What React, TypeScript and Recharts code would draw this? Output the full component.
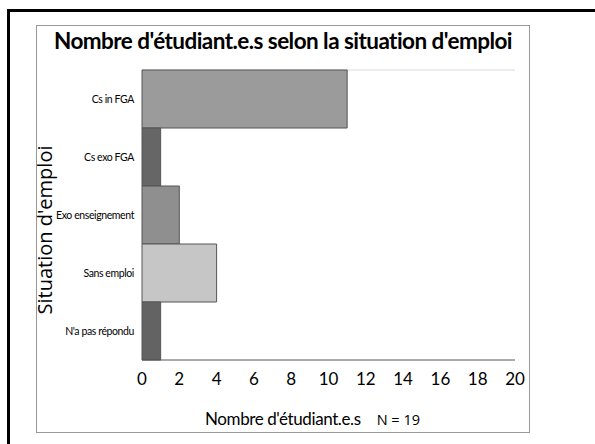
import React from "react";
import { BarChart, Bar, XAxis, YAxis, CartesianGrid, Cell } from "recharts";

const categories = ["Cs in FGA", "Cs exo FGA", "Exo enseignement", "Sans emploi", "N'a pas répondu"];
const counts = [11, 1, 2, 4, 1];
const colors = ["#9b9b9b", "#666666", "#8f8f8f", "#c6c6c6", "#636363"];
const xTicks = [0, 2, 4, 6, 8, 10, 12, 14, 16, 18, 20];

const data = categories.map((c, i) => ({ name: c, value: counts[i] }));

const FONT = "Lato, 'Noto Sans', sans-serif";

export default function App() {
  return (
    <div style={{ position: "absolute", left: 0, top: 0, width: 595, height: 444, background: "#fff", overflow: "hidden" }}>
      <div style={{ position: "absolute", left: 7, top: 9, width: 620, height: 470, borderLeft: "3px solid #000", borderTop: "3px solid #000" }} />
      <div style={{ position: "absolute", left: 36, top: 25, width: 492, height: 406, border: "1px solid #999" }} />
      <div style={{ position: "absolute", left: 36, top: 27, width: 494, textAlign: "center", fontFamily: FONT, fontWeight: 700, fontSize: 22.5, letterSpacing: -0.55, color: "#000" }}>
        Nombre d'étudiant.e.s selon la situation d'emploi
      </div>
      <div style={{ position: "absolute", left: 0, top: 0 }}>
        <BarChart
          width={595}
          height={444}
          data={data}
          layout="vertical"
          barCategoryGap={0}
          margin={{ top: 70, right: 80, bottom: 54, left: 0 }}
        >
          <CartesianGrid
            vertical={false}
            stroke="#d9d9d9"
            horizontalCoordinatesGenerator={(p: any) => [p.offset.top]}
          />
          <XAxis
            type="number"
            domain={[0, 20]}
            ticks={xTicks}
            interval={0}
            tickLine={false}
            axisLine={{ stroke: "#555", strokeWidth: 1 }}
            tick={{ fontFamily: FONT, fontSize: 17, fill: "#000" }}
            tickMargin={7}
          />
          <YAxis
            type="category"
            dataKey="name"
            width={142}
            axisLine={false}
            tickLine={false}
            tick={{ fontFamily: FONT, fontSize: 10.5, fill: "#000", letterSpacing: -0.4 }}
            tickMargin={2}
          />
          <Bar dataKey="value" isAnimationActive={false} stroke="#555" strokeWidth={1}>
            {data.map((d, i) => (
              <Cell key={d.name} fill={colors[i]} />
            ))}
          </Bar>
        </BarChart>
      </div>
      <div
        style={{
          position: "absolute",
          left: 44,
          top: 230,
          transform: "translate(-50%, -50%) rotate(-90deg)",
          whiteSpace: "nowrap",
          fontFamily: "'Open Sans', 'Noto Sans', sans-serif",
          fontSize: 20,
          color: "#000",
        }}
      >
        Situation d'emploi
      </div>
      <div style={{ position: "absolute", left: 205, top: 408, whiteSpace: "nowrap", color: "#000" }}>
        <span style={{ fontFamily: FONT, fontSize: 17, letterSpacing: -0.4 }}>Nombre d'étudiant.e.s</span>
        <span style={{ fontFamily: "'Open Sans', 'Noto Sans', sans-serif", fontSize: 14.5, marginLeft: 16 }}>N = 19</span>
      </div>
    </div>
  );
}
